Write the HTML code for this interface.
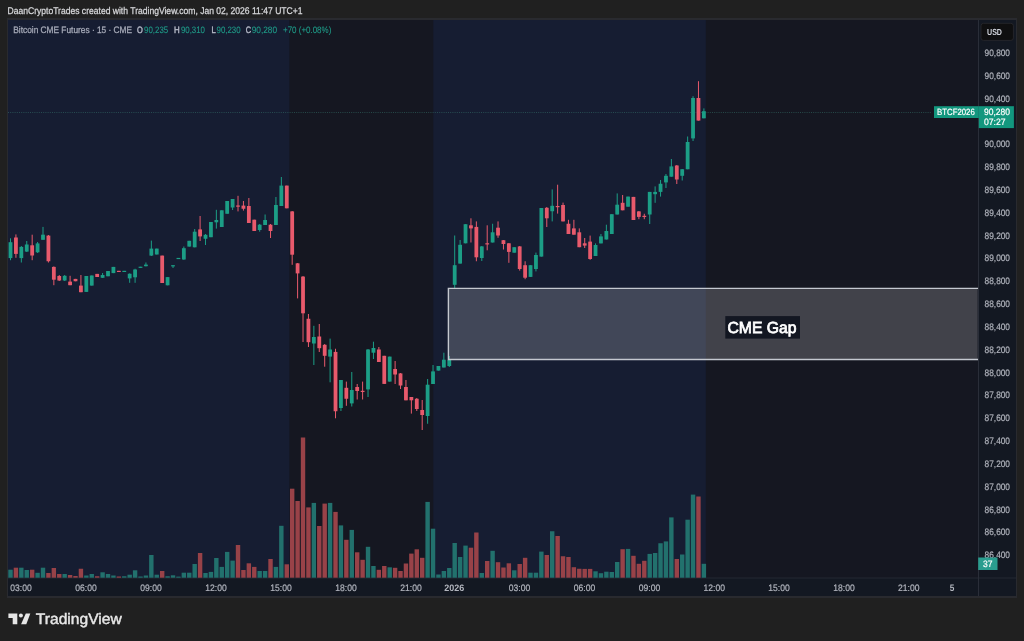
<!DOCTYPE html>
<html><head><meta charset="utf-8">
<style>
html,body{margin:0;padding:0;}
body{width:1024px;height:641px;overflow:hidden;background:#202020;position:relative;font-family:"Liberation Sans",sans-serif;}
svg{position:absolute;left:0;top:0;font-family:"Liberation Sans",sans-serif;}
text{text-rendering:geometricPrecision;}
svg{will-change:transform;}
</style></head><body>
<svg width="1024" height="641" viewBox="0 0 1024 641">
<rect x="7" y="18" width="1010" height="580" fill="#292a2f"/>
<rect x="8" y="20" width="1008" height="576" fill="#151721"/>
<rect x="8" y="20" width="281.3" height="558" fill="#161d32"/>
<rect x="433.3" y="20" width="272.5" height="558" fill="#161d32"/>
<rect x="8" y="578" width="970" height="18" fill="#131822"/>
<rect x="978" y="20" width="38" height="576" fill="#131822"/>
<rect x="8" y="577.6" width="1008" height="0.8" fill="#2a2e39"/>
<rect x="978" y="20" width="1" height="576" fill="#2a2e39"/>
<text x="7.5" y="13.9" textLength="295" lengthAdjust="spacingAndGlyphs" text-anchor="start" style="font-size:9.7px;font-weight:normal;fill:#d8d9dc;stroke:#d8d9dc;stroke-width:0.25">DaanCryptoTrades created with TradingView.com, Jan 02, 2026 11:47 UTC+1</text>
<text x="13.3" y="33" textLength="118.8" lengthAdjust="spacingAndGlyphs" text-anchor="start" style="font-size:9.4px;font-weight:normal;fill:#a4a8b6;stroke:#a4a8b6;stroke-width:0.3">Bitcoin CME Futures · 15 · CME</text>
<text x="137.1" y="33" textLength="5.8" lengthAdjust="spacingAndGlyphs" text-anchor="start" style="font-size:9.3px;font-weight:normal;fill:#b4b8c6;stroke:#b4b8c6;stroke-width:0.45">O</text>
<text x="144.1" y="33" textLength="24.1" lengthAdjust="spacingAndGlyphs" text-anchor="start" style="font-size:9.3px;font-weight:normal;fill:#1f9a87;stroke:#1f9a87;stroke-width:0.1">90,235</text>
<text x="174" y="33" textLength="5.7" lengthAdjust="spacingAndGlyphs" text-anchor="start" style="font-size:9.3px;font-weight:normal;fill:#b4b8c6;stroke:#b4b8c6;stroke-width:0.45">H</text>
<text x="180.9" y="33" textLength="24.1" lengthAdjust="spacingAndGlyphs" text-anchor="start" style="font-size:9.3px;font-weight:normal;fill:#1f9a87;stroke:#1f9a87;stroke-width:0.1">90,310</text>
<text x="211.4" y="33" textLength="4.2" lengthAdjust="spacingAndGlyphs" text-anchor="start" style="font-size:9.3px;font-weight:normal;fill:#b4b8c6;stroke:#b4b8c6;stroke-width:0.45">L</text>
<text x="216.5" y="33" textLength="24.1" lengthAdjust="spacingAndGlyphs" text-anchor="start" style="font-size:9.3px;font-weight:normal;fill:#1f9a87;stroke:#1f9a87;stroke-width:0.1">90,230</text>
<text x="245.7" y="33" textLength="5.3" lengthAdjust="spacingAndGlyphs" text-anchor="start" style="font-size:9.3px;font-weight:normal;fill:#b4b8c6;stroke:#b4b8c6;stroke-width:0.45">C</text>
<text x="251.7" y="33" textLength="25.4" lengthAdjust="spacingAndGlyphs" text-anchor="start" style="font-size:9.3px;font-weight:normal;fill:#1f9a87;stroke:#1f9a87;stroke-width:0.1">90,280</text>
<text x="283" y="33" textLength="48.3" lengthAdjust="spacingAndGlyphs" text-anchor="start" style="font-size:9.3px;font-weight:normal;fill:#1f9a87;stroke:#1f9a87;stroke-width:0.1">+70 (+0.08%)</text>
<line x1="8" y1="112.5" x2="931" y2="112.5" stroke="#3c8478" stroke-width="1" stroke-dasharray="1 1.2" opacity="0.45"/>
<rect x="8.3" y="569.7" width="4.4" height="8" fill="#22716d"/>
<rect x="13.72" y="567.7" width="4.4" height="10" fill="#984248"/>
<rect x="19.13" y="567.7" width="4.4" height="10" fill="#22716d"/>
<rect x="24.55" y="570" width="4.4" height="7.7" fill="#22716d"/>
<rect x="29.97" y="569.7" width="4.4" height="8" fill="#984248"/>
<rect x="35.38" y="572.8" width="4.4" height="4.9" fill="#22716d"/>
<rect x="40.8" y="567.7" width="4.4" height="10" fill="#22716d"/>
<rect x="46.22" y="573" width="4.4" height="4.7" fill="#984248"/>
<rect x="51.64" y="568" width="4.4" height="9.7" fill="#984248"/>
<rect x="57.05" y="574" width="4.4" height="3.7" fill="#984248"/>
<rect x="62.47" y="574" width="4.4" height="3.7" fill="#22716d"/>
<rect x="67.89" y="575" width="4.4" height="2.7" fill="#984248"/>
<rect x="73.3" y="576" width="4.4" height="1.7" fill="#984248"/>
<rect x="78.72" y="568.75" width="4.4" height="8.95" fill="#984248"/>
<rect x="84.14" y="575.5" width="4.4" height="2.2" fill="#22716d"/>
<rect x="89.55" y="574" width="4.4" height="3.7" fill="#22716d"/>
<rect x="94.97" y="576.25" width="4.4" height="1.45" fill="#984248"/>
<rect x="100.39" y="572.3" width="4.4" height="5.4" fill="#22716d"/>
<rect x="105.81" y="574" width="4.4" height="3.7" fill="#22716d"/>
<rect x="111.22" y="575.5" width="4.4" height="2.2" fill="#22716d"/>
<rect x="116.64" y="576.5" width="4.4" height="1.2" fill="#984248"/>
<rect x="122.06" y="576.25" width="4.4" height="1.45" fill="#22716d"/>
<rect x="127.47" y="574.7" width="4.4" height="3" fill="#22716d"/>
<rect x="132.89" y="570.3" width="4.4" height="7.4" fill="#22716d"/>
<rect x="138.31" y="576.5" width="4.4" height="1.2" fill="#22716d"/>
<rect x="143.72" y="575.5" width="4.4" height="2.2" fill="#22716d"/>
<rect x="149.14" y="555" width="4.4" height="22.7" fill="#22716d"/>
<rect x="154.56" y="574.7" width="4.4" height="3" fill="#22716d"/>
<rect x="159.98" y="571" width="4.4" height="6.7" fill="#984248"/>
<rect x="165.39" y="576.25" width="4.4" height="1.45" fill="#22716d"/>
<rect x="170.81" y="575.3" width="4.4" height="2.4" fill="#22716d"/>
<rect x="176.23" y="576.6" width="4.4" height="1.1" fill="#22716d"/>
<rect x="181.64" y="572.7" width="4.4" height="5" fill="#22716d"/>
<rect x="187.06" y="572.7" width="4.4" height="5" fill="#22716d"/>
<rect x="192.48" y="564" width="4.4" height="13.7" fill="#22716d"/>
<rect x="197.9" y="553" width="4.4" height="24.7" fill="#984248"/>
<rect x="203.31" y="573" width="4.4" height="4.7" fill="#22716d"/>
<rect x="208.73" y="571.9" width="4.4" height="5.8" fill="#22716d"/>
<rect x="214.15" y="558" width="4.4" height="19.7" fill="#22716d"/>
<rect x="219.56" y="566.9" width="4.4" height="10.8" fill="#22716d"/>
<rect x="224.98" y="551.9" width="4.4" height="25.8" fill="#22716d"/>
<rect x="230.4" y="560.6" width="4.4" height="17.1" fill="#22716d"/>
<rect x="235.81" y="545" width="4.4" height="32.7" fill="#984248"/>
<rect x="241.23" y="570" width="4.4" height="7.7" fill="#984248"/>
<rect x="246.65" y="563.3" width="4.4" height="14.4" fill="#984248"/>
<rect x="252.06" y="566.9" width="4.4" height="10.8" fill="#984248"/>
<rect x="257.48" y="571" width="4.4" height="6.7" fill="#22716d"/>
<rect x="262.9" y="571" width="4.4" height="6.7" fill="#22716d"/>
<rect x="268.32" y="559" width="4.4" height="18.7" fill="#984248"/>
<rect x="273.73" y="566.9" width="4.4" height="10.8" fill="#22716d"/>
<rect x="279.15" y="525.8" width="4.4" height="51.9" fill="#22716d"/>
<rect x="284.57" y="564.3" width="4.4" height="13.4" fill="#984248"/>
<rect x="289.98" y="488.7" width="4.4" height="89" fill="#984248"/>
<rect x="295.4" y="501" width="4.4" height="76.7" fill="#984248"/>
<rect x="300.82" y="437.5" width="4.4" height="140.2" fill="#984248"/>
<rect x="306.24" y="507.4" width="4.4" height="70.3" fill="#984248"/>
<rect x="311.65" y="502.9" width="4.4" height="74.8" fill="#22716d"/>
<rect x="317.07" y="526" width="4.4" height="51.7" fill="#984248"/>
<rect x="322.49" y="503.6" width="4.4" height="74.1" fill="#984248"/>
<rect x="327.9" y="502.9" width="4.4" height="74.8" fill="#22716d"/>
<rect x="333.32" y="511.9" width="4.4" height="65.8" fill="#984248"/>
<rect x="338.74" y="525.4" width="4.4" height="52.3" fill="#22716d"/>
<rect x="344.15" y="539.8" width="4.4" height="37.9" fill="#984248"/>
<rect x="349.57" y="529.9" width="4.4" height="47.8" fill="#22716d"/>
<rect x="354.99" y="552.3" width="4.4" height="25.4" fill="#984248"/>
<rect x="360.4" y="559.8" width="4.4" height="17.9" fill="#984248"/>
<rect x="365.82" y="546.8" width="4.4" height="30.9" fill="#22716d"/>
<rect x="371.24" y="566" width="4.4" height="11.7" fill="#22716d"/>
<rect x="376.66" y="569.8" width="4.4" height="7.9" fill="#984248"/>
<rect x="382.07" y="566" width="4.4" height="11.7" fill="#984248"/>
<rect x="387.49" y="567.3" width="4.4" height="10.4" fill="#22716d"/>
<rect x="392.91" y="567.8" width="4.4" height="9.9" fill="#984248"/>
<rect x="398.32" y="571" width="4.4" height="6.7" fill="#984248"/>
<rect x="403.74" y="563.5" width="4.4" height="14.2" fill="#984248"/>
<rect x="409.16" y="553.6" width="4.4" height="24.1" fill="#984248"/>
<rect x="414.57" y="549.3" width="4.4" height="28.4" fill="#984248"/>
<rect x="419.99" y="557.8" width="4.4" height="19.9" fill="#984248"/>
<rect x="425.41" y="501.9" width="4.4" height="75.8" fill="#22716d"/>
<rect x="430.83" y="528.7" width="4.4" height="49" fill="#22716d"/>
<rect x="436.24" y="574.5" width="4.4" height="3.2" fill="#22716d"/>
<rect x="441.66" y="571" width="4.4" height="6.7" fill="#22716d"/>
<rect x="447.08" y="568" width="4.4" height="9.7" fill="#22716d"/>
<rect x="452.49" y="543" width="4.4" height="34.7" fill="#22716d"/>
<rect x="457.91" y="557" width="4.4" height="20.7" fill="#22716d"/>
<rect x="463.33" y="545.6" width="4.4" height="32.1" fill="#22716d"/>
<rect x="468.75" y="547.7" width="4.4" height="30" fill="#984248"/>
<rect x="474.16" y="532.5" width="4.4" height="45.2" fill="#984248"/>
<rect x="479.58" y="573" width="4.4" height="4.7" fill="#22716d"/>
<rect x="485" y="561" width="4.4" height="16.7" fill="#984248"/>
<rect x="490.41" y="550.8" width="4.4" height="26.9" fill="#22716d"/>
<rect x="495.83" y="562.2" width="4.4" height="15.5" fill="#984248"/>
<rect x="501.25" y="567.5" width="4.4" height="10.2" fill="#984248"/>
<rect x="506.66" y="563.3" width="4.4" height="14.4" fill="#984248"/>
<rect x="512.08" y="570.3" width="4.4" height="7.4" fill="#22716d"/>
<rect x="517.5" y="564" width="4.4" height="13.7" fill="#984248"/>
<rect x="522.91" y="557.8" width="4.4" height="19.9" fill="#984248"/>
<rect x="528.33" y="572.7" width="4.4" height="5" fill="#22716d"/>
<rect x="533.75" y="572.7" width="4.4" height="5" fill="#22716d"/>
<rect x="539.17" y="551.6" width="4.4" height="26.1" fill="#22716d"/>
<rect x="544.58" y="555" width="4.4" height="22.7" fill="#984248"/>
<rect x="550" y="531.25" width="4.4" height="46.45" fill="#22716d"/>
<rect x="555.42" y="536" width="4.4" height="41.7" fill="#984248"/>
<rect x="560.83" y="556.25" width="4.4" height="21.45" fill="#984248"/>
<rect x="566.25" y="557" width="4.4" height="20.7" fill="#984248"/>
<rect x="571.67" y="567.2" width="4.4" height="10.5" fill="#984248"/>
<rect x="577.08" y="568.75" width="4.4" height="8.95" fill="#984248"/>
<rect x="582.5" y="568.9" width="4.4" height="8.8" fill="#984248"/>
<rect x="587.92" y="568.9" width="4.4" height="8.8" fill="#984248"/>
<rect x="593.34" y="571.3" width="4.4" height="6.4" fill="#22716d"/>
<rect x="598.75" y="573.2" width="4.4" height="4.5" fill="#22716d"/>
<rect x="604.17" y="571.7" width="4.4" height="6" fill="#22716d"/>
<rect x="609.59" y="572" width="4.4" height="5.7" fill="#22716d"/>
<rect x="615" y="562" width="4.4" height="15.7" fill="#22716d"/>
<rect x="620.42" y="549.2" width="4.4" height="28.5" fill="#984248"/>
<rect x="625.84" y="548.9" width="4.4" height="28.8" fill="#22716d"/>
<rect x="631.25" y="555.8" width="4.4" height="21.9" fill="#984248"/>
<rect x="636.67" y="563.8" width="4.4" height="13.9" fill="#984248"/>
<rect x="642.09" y="560.8" width="4.4" height="16.9" fill="#984248"/>
<rect x="647.51" y="553.9" width="4.4" height="23.8" fill="#22716d"/>
<rect x="652.92" y="553" width="4.4" height="24.7" fill="#22716d"/>
<rect x="658.34" y="543.25" width="4.4" height="34.45" fill="#22716d"/>
<rect x="663.76" y="541.4" width="4.4" height="36.3" fill="#22716d"/>
<rect x="669.17" y="517.4" width="4.4" height="60.3" fill="#22716d"/>
<rect x="674.59" y="559" width="4.4" height="18.7" fill="#984248"/>
<rect x="680.01" y="554.5" width="4.4" height="23.2" fill="#22716d"/>
<rect x="685.42" y="519.7" width="4.4" height="58" fill="#22716d"/>
<rect x="690.84" y="494.6" width="4.4" height="83.1" fill="#22716d"/>
<rect x="696.26" y="496.5" width="4.4" height="81.2" fill="#984248"/>
<rect x="701.68" y="563.8" width="4.4" height="13.9" fill="#22716d"/>
<rect x="10" y="238.3" width="1" height="21.9" fill="#1c9e86"/>
<rect x="8.6" y="242.2" width="3.8" height="15.9" fill="#1c9e86"/>
<rect x="15.42" y="234.4" width="1" height="23.4" fill="#e85a6c"/>
<rect x="14.02" y="237.5" width="3.8" height="16.4" fill="#e85a6c"/>
<rect x="20.83" y="246" width="1" height="16.5" fill="#1c9e86"/>
<rect x="19.43" y="246.9" width="3.8" height="11.2" fill="#1c9e86"/>
<rect x="26.25" y="241" width="1" height="11" fill="#1c9e86"/>
<rect x="24.85" y="244.5" width="3.8" height="7.1" fill="#1c9e86"/>
<rect x="31.67" y="234.7" width="1" height="25.5" fill="#e85a6c"/>
<rect x="30.27" y="245.3" width="3.8" height="10.2" fill="#e85a6c"/>
<rect x="37.09" y="242" width="1" height="11" fill="#1c9e86"/>
<rect x="35.69" y="243.4" width="3.8" height="8.9" fill="#1c9e86"/>
<rect x="42.5" y="226.9" width="1" height="12.9" fill="#1c9e86"/>
<rect x="41.1" y="234.7" width="3.8" height="5.1" fill="#1c9e86"/>
<rect x="47.92" y="235" width="1" height="27.5" fill="#e85a6c"/>
<rect x="46.52" y="235.6" width="3.8" height="25.65" fill="#e85a6c"/>
<rect x="53.34" y="266.4" width="1" height="18.8" fill="#e85a6c"/>
<rect x="51.94" y="266.9" width="3.8" height="12.8" fill="#e85a6c"/>
<rect x="58.75" y="275" width="1" height="6" fill="#e85a6c"/>
<rect x="57.35" y="276" width="3.8" height="4.5" fill="#e85a6c"/>
<rect x="64.17" y="275" width="1" height="6" fill="#1c9e86"/>
<rect x="62.77" y="275.8" width="3.8" height="4.7" fill="#1c9e86"/>
<rect x="69.59" y="275.8" width="1" height="9.4" fill="#e85a6c"/>
<rect x="68.19" y="281.6" width="3.8" height="3.6" fill="#e85a6c"/>
<rect x="75" y="278.9" width="1" height="2.35" fill="#e85a6c"/>
<rect x="73.6" y="278.9" width="3.8" height="2.35" fill="#e85a6c"/>
<rect x="80.42" y="275" width="1" height="17.2" fill="#e85a6c"/>
<rect x="79.02" y="285.6" width="3.8" height="6.6" fill="#e85a6c"/>
<rect x="85.84" y="276" width="1" height="15.9" fill="#1c9e86"/>
<rect x="84.44" y="276" width="3.8" height="15.9" fill="#1c9e86"/>
<rect x="91.25" y="275.5" width="1" height="10.1" fill="#1c9e86"/>
<rect x="89.85" y="275.5" width="3.8" height="10.1" fill="#1c9e86"/>
<rect x="96.67" y="273.9" width="1" height="3.1" fill="#e85a6c"/>
<rect x="95.27" y="273.9" width="3.8" height="3.1" fill="#e85a6c"/>
<rect x="102.09" y="273" width="1" height="5" fill="#1c9e86"/>
<rect x="100.69" y="275" width="3.8" height="2.8" fill="#1c9e86"/>
<rect x="107.51" y="271" width="1" height="5.25" fill="#1c9e86"/>
<rect x="106.11" y="271" width="3.8" height="5.25" fill="#1c9e86"/>
<rect x="112.92" y="266.9" width="1" height="6.2" fill="#1c9e86"/>
<rect x="111.52" y="266.9" width="3.8" height="6.2" fill="#1c9e86"/>
<rect x="118.34" y="270.9" width="1" height="1" fill="#e85a6c"/>
<rect x="116.94" y="270.8" width="3.8" height="1.2" fill="#e85a6c"/>
<rect x="123.76" y="270.9" width="1" height="1" fill="#1c9e86"/>
<rect x="122.36" y="270.8" width="3.8" height="1.2" fill="#1c9e86"/>
<rect x="129.17" y="273.4" width="1" height="9.4" fill="#1c9e86"/>
<rect x="127.77" y="273.75" width="3.8" height="4.65" fill="#1c9e86"/>
<rect x="134.59" y="268.75" width="1" height="14.05" fill="#1c9e86"/>
<rect x="133.19" y="269.5" width="3.8" height="7.8" fill="#1c9e86"/>
<rect x="140.01" y="266.8" width="1" height="1" fill="#1c9e86"/>
<rect x="138.61" y="266.7" width="3.8" height="1.2" fill="#1c9e86"/>
<rect x="145.42" y="262.5" width="1" height="3.9" fill="#1c9e86"/>
<rect x="144.02" y="264.6" width="3.8" height="1.6" fill="#1c9e86"/>
<rect x="150.84" y="240.6" width="1" height="15.4" fill="#1c9e86"/>
<rect x="149.44" y="248.6" width="3.8" height="7" fill="#1c9e86"/>
<rect x="156.26" y="248.6" width="1" height="5.9" fill="#1c9e86"/>
<rect x="154.86" y="248.6" width="3.8" height="5.9" fill="#1c9e86"/>
<rect x="161.68" y="255.6" width="1" height="27.4" fill="#e85a6c"/>
<rect x="160.28" y="255.6" width="3.8" height="27.4" fill="#e85a6c"/>
<rect x="167.09" y="277.1" width="1" height="8.2" fill="#1c9e86"/>
<rect x="165.69" y="277.1" width="3.8" height="8.2" fill="#1c9e86"/>
<rect x="172.51" y="265.3" width="1" height="2.7" fill="#1c9e86"/>
<rect x="171.11" y="265.2" width="3.8" height="1.2" fill="#1c9e86"/>
<rect x="177.93" y="258" width="1" height="1" fill="#1c9e86"/>
<rect x="176.53" y="257.9" width="3.8" height="1.2" fill="#1c9e86"/>
<rect x="183.34" y="246.5" width="1" height="13.3" fill="#1c9e86"/>
<rect x="181.94" y="248.2" width="3.8" height="11.3" fill="#1c9e86"/>
<rect x="188.76" y="240.8" width="1" height="5.8" fill="#1c9e86"/>
<rect x="187.36" y="240.8" width="3.8" height="5.8" fill="#1c9e86"/>
<rect x="194.18" y="229" width="1" height="18.3" fill="#1c9e86"/>
<rect x="192.78" y="231.7" width="3.8" height="15.6" fill="#1c9e86"/>
<rect x="199.59" y="216" width="1" height="25" fill="#e85a6c"/>
<rect x="198.19" y="229.4" width="3.8" height="7" fill="#e85a6c"/>
<rect x="205.01" y="234" width="1" height="11" fill="#1c9e86"/>
<rect x="203.61" y="234.8" width="3.8" height="3.95" fill="#1c9e86"/>
<rect x="210.43" y="222" width="1" height="15.2" fill="#1c9e86"/>
<rect x="209.03" y="222" width="3.8" height="15.2" fill="#1c9e86"/>
<rect x="215.85" y="209.8" width="1" height="18.8" fill="#1c9e86"/>
<rect x="214.45" y="220" width="3.8" height="2.3" fill="#1c9e86"/>
<rect x="221.26" y="210.3" width="1" height="16.7" fill="#1c9e86"/>
<rect x="219.86" y="210.3" width="3.8" height="16.7" fill="#1c9e86"/>
<rect x="226.68" y="201" width="1" height="12.75" fill="#1c9e86"/>
<rect x="225.28" y="201" width="3.8" height="12.75" fill="#1c9e86"/>
<rect x="232.1" y="199" width="1" height="11" fill="#1c9e86"/>
<rect x="230.7" y="199" width="3.8" height="8.5" fill="#1c9e86"/>
<rect x="237.51" y="195.8" width="1" height="15.6" fill="#e85a6c"/>
<rect x="236.11" y="205.5" width="3.8" height="1.2" fill="#e85a6c"/>
<rect x="242.93" y="201" width="1" height="9.6" fill="#e85a6c"/>
<rect x="241.53" y="205.6" width="3.8" height="3.15" fill="#e85a6c"/>
<rect x="248.35" y="198" width="1" height="25" fill="#e85a6c"/>
<rect x="246.95" y="206" width="3.8" height="17" fill="#e85a6c"/>
<rect x="253.76" y="219.7" width="1" height="11.3" fill="#e85a6c"/>
<rect x="252.36" y="219.7" width="3.8" height="11.3" fill="#e85a6c"/>
<rect x="259.18" y="224" width="1" height="7.7" fill="#1c9e86"/>
<rect x="257.78" y="224.7" width="3.8" height="5.3" fill="#1c9e86"/>
<rect x="264.6" y="214.5" width="1" height="10.5" fill="#1c9e86"/>
<rect x="263.2" y="220" width="3.8" height="5" fill="#1c9e86"/>
<rect x="270.02" y="224" width="1" height="14" fill="#e85a6c"/>
<rect x="268.62" y="224.7" width="3.8" height="6.3" fill="#e85a6c"/>
<rect x="275.43" y="197" width="1" height="28" fill="#1c9e86"/>
<rect x="274.03" y="205" width="3.8" height="20" fill="#1c9e86"/>
<rect x="280.85" y="177" width="1" height="29" fill="#1c9e86"/>
<rect x="279.45" y="185.6" width="3.8" height="20.4" fill="#1c9e86"/>
<rect x="286.27" y="185.6" width="1" height="22.7" fill="#e85a6c"/>
<rect x="284.87" y="185.6" width="3.8" height="22.7" fill="#e85a6c"/>
<rect x="291.68" y="211" width="1" height="53.8" fill="#e85a6c"/>
<rect x="290.28" y="211.4" width="3.8" height="43.3" fill="#e85a6c"/>
<rect x="297.1" y="263" width="1" height="35.4" fill="#e85a6c"/>
<rect x="295.7" y="263.3" width="3.8" height="10.1" fill="#e85a6c"/>
<rect x="302.52" y="276" width="1" height="66" fill="#e85a6c"/>
<rect x="301.12" y="276.6" width="3.8" height="36.7" fill="#e85a6c"/>
<rect x="307.94" y="314" width="1" height="33" fill="#e85a6c"/>
<rect x="306.54" y="318.75" width="3.8" height="23.45" fill="#e85a6c"/>
<rect x="313.35" y="325.8" width="1" height="39.2" fill="#1c9e86"/>
<rect x="311.95" y="337" width="3.8" height="6.5" fill="#1c9e86"/>
<rect x="318.77" y="324" width="1" height="28" fill="#e85a6c"/>
<rect x="317.37" y="336.5" width="3.8" height="11.7" fill="#e85a6c"/>
<rect x="324.19" y="344" width="1" height="22.7" fill="#e85a6c"/>
<rect x="322.79" y="344.8" width="3.8" height="11" fill="#e85a6c"/>
<rect x="329.6" y="338.6" width="1" height="43.7" fill="#1c9e86"/>
<rect x="328.2" y="349.5" width="3.8" height="7.1" fill="#1c9e86"/>
<rect x="335.02" y="348.75" width="1" height="69.55" fill="#e85a6c"/>
<rect x="333.62" y="351.9" width="3.8" height="59.35" fill="#e85a6c"/>
<rect x="340.44" y="380" width="1" height="31" fill="#1c9e86"/>
<rect x="339.04" y="380" width="3.8" height="28" fill="#1c9e86"/>
<rect x="345.85" y="381.6" width="1" height="24.2" fill="#e85a6c"/>
<rect x="344.45" y="387.8" width="3.8" height="10.95" fill="#e85a6c"/>
<rect x="351.27" y="372" width="1" height="34.5" fill="#1c9e86"/>
<rect x="349.87" y="390" width="3.8" height="13.4" fill="#1c9e86"/>
<rect x="356.69" y="384" width="1" height="15.5" fill="#e85a6c"/>
<rect x="355.29" y="387" width="3.8" height="4" fill="#e85a6c"/>
<rect x="362.1" y="381.6" width="1" height="17.9" fill="#e85a6c"/>
<rect x="360.7" y="390.8" width="3.8" height="1.2" fill="#e85a6c"/>
<rect x="367.52" y="349" width="1" height="48" fill="#1c9e86"/>
<rect x="366.12" y="349.5" width="3.8" height="39.9" fill="#1c9e86"/>
<rect x="372.94" y="341.7" width="1" height="17.3" fill="#1c9e86"/>
<rect x="371.54" y="348" width="3.8" height="4.7" fill="#1c9e86"/>
<rect x="378.36" y="347" width="1" height="15" fill="#e85a6c"/>
<rect x="376.96" y="349.5" width="3.8" height="12.5" fill="#e85a6c"/>
<rect x="383.77" y="355.8" width="1" height="28.1" fill="#e85a6c"/>
<rect x="382.37" y="355.8" width="3.8" height="28.1" fill="#e85a6c"/>
<rect x="389.19" y="356.6" width="1" height="25" fill="#1c9e86"/>
<rect x="387.79" y="356.6" width="3.8" height="25" fill="#1c9e86"/>
<rect x="394.61" y="361" width="1" height="23" fill="#e85a6c"/>
<rect x="393.21" y="369" width="3.8" height="5.5" fill="#e85a6c"/>
<rect x="400.02" y="373" width="1" height="16" fill="#e85a6c"/>
<rect x="398.62" y="373.4" width="3.8" height="12.1" fill="#e85a6c"/>
<rect x="405.44" y="380" width="1" height="20.3" fill="#e85a6c"/>
<rect x="404.04" y="387" width="3.8" height="13.3" fill="#e85a6c"/>
<rect x="410.86" y="397" width="1" height="16.6" fill="#e85a6c"/>
<rect x="409.46" y="397" width="3.8" height="3.3" fill="#e85a6c"/>
<rect x="416.27" y="398" width="1" height="13" fill="#e85a6c"/>
<rect x="414.88" y="398.75" width="3.8" height="10.25" fill="#e85a6c"/>
<rect x="421.69" y="400" width="1" height="30" fill="#e85a6c"/>
<rect x="420.29" y="410" width="3.8" height="5" fill="#e85a6c"/>
<rect x="427.11" y="379" width="1" height="44.75" fill="#1c9e86"/>
<rect x="425.71" y="384.7" width="3.8" height="31.3" fill="#1c9e86"/>
<rect x="432.53" y="365" width="1" height="19" fill="#1c9e86"/>
<rect x="431.13" y="371.4" width="3.8" height="12.6" fill="#1c9e86"/>
<rect x="437.94" y="366" width="1" height="4.6" fill="#1c9e86"/>
<rect x="436.54" y="366" width="3.8" height="4.6" fill="#1c9e86"/>
<rect x="443.36" y="352.7" width="1" height="14.8" fill="#1c9e86"/>
<rect x="441.96" y="359.7" width="3.8" height="7.8" fill="#1c9e86"/>
<rect x="448.78" y="356" width="1" height="11" fill="#1c9e86"/>
<rect x="447.38" y="360" width="3.8" height="6" fill="#1c9e86"/>
<rect x="454.19" y="235.5" width="1" height="52.5" fill="#1c9e86"/>
<rect x="452.79" y="265.2" width="3.8" height="19.6" fill="#1c9e86"/>
<rect x="459.61" y="240" width="1" height="23.6" fill="#1c9e86"/>
<rect x="458.21" y="244.8" width="3.8" height="18.8" fill="#1c9e86"/>
<rect x="465.03" y="224.2" width="1" height="19.1" fill="#1c9e86"/>
<rect x="463.63" y="224.2" width="3.8" height="19.1" fill="#1c9e86"/>
<rect x="470.44" y="218.3" width="1" height="24.2" fill="#e85a6c"/>
<rect x="469.05" y="225.3" width="3.8" height="3.1" fill="#e85a6c"/>
<rect x="475.86" y="221.4" width="1" height="39.85" fill="#e85a6c"/>
<rect x="474.46" y="226.9" width="3.8" height="30.4" fill="#e85a6c"/>
<rect x="481.28" y="246" width="1" height="15" fill="#1c9e86"/>
<rect x="479.88" y="246.4" width="3.8" height="11.6" fill="#1c9e86"/>
<rect x="486.7" y="225.3" width="1" height="25" fill="#e85a6c"/>
<rect x="485.3" y="243.25" width="3.8" height="1.2" fill="#e85a6c"/>
<rect x="492.11" y="223.75" width="1" height="18.75" fill="#1c9e86"/>
<rect x="490.71" y="232.3" width="3.8" height="10.2" fill="#1c9e86"/>
<rect x="497.53" y="221.4" width="1" height="16.4" fill="#e85a6c"/>
<rect x="496.13" y="227.7" width="3.8" height="7.8" fill="#e85a6c"/>
<rect x="502.95" y="240" width="1" height="9.5" fill="#e85a6c"/>
<rect x="501.55" y="240.2" width="3.8" height="3.8" fill="#e85a6c"/>
<rect x="508.36" y="243" width="1" height="19.8" fill="#e85a6c"/>
<rect x="506.96" y="243.3" width="3.8" height="8.6" fill="#e85a6c"/>
<rect x="513.78" y="247.2" width="1" height="5.5" fill="#1c9e86"/>
<rect x="512.38" y="247.2" width="3.8" height="5.5" fill="#1c9e86"/>
<rect x="519.2" y="246" width="1" height="24.6" fill="#e85a6c"/>
<rect x="517.8" y="246.4" width="3.8" height="22.6" fill="#e85a6c"/>
<rect x="524.62" y="261.25" width="1" height="17.95" fill="#e85a6c"/>
<rect x="523.22" y="265.2" width="3.8" height="12.5" fill="#e85a6c"/>
<rect x="530.03" y="265.2" width="1" height="11.7" fill="#1c9e86"/>
<rect x="528.63" y="265.2" width="3.8" height="11.7" fill="#1c9e86"/>
<rect x="535.45" y="252.6" width="1" height="18.8" fill="#1c9e86"/>
<rect x="534.05" y="255" width="3.8" height="14" fill="#1c9e86"/>
<rect x="540.87" y="208" width="1" height="48.6" fill="#1c9e86"/>
<rect x="539.47" y="208" width="3.8" height="48.6" fill="#1c9e86"/>
<rect x="546.28" y="207" width="1" height="20" fill="#e85a6c"/>
<rect x="544.88" y="207.8" width="3.8" height="10.5" fill="#e85a6c"/>
<rect x="551.7" y="189.4" width="1" height="32" fill="#1c9e86"/>
<rect x="550.3" y="205.8" width="3.8" height="5.45" fill="#1c9e86"/>
<rect x="557.12" y="184.7" width="1" height="28.9" fill="#e85a6c"/>
<rect x="555.72" y="206" width="3.8" height="1.2" fill="#e85a6c"/>
<rect x="562.53" y="202.6" width="1" height="18.8" fill="#e85a6c"/>
<rect x="561.13" y="205" width="3.8" height="16.4" fill="#e85a6c"/>
<rect x="567.95" y="219.8" width="1" height="14.2" fill="#e85a6c"/>
<rect x="566.55" y="223.75" width="3.8" height="10.25" fill="#e85a6c"/>
<rect x="573.37" y="219.8" width="1" height="14.9" fill="#e85a6c"/>
<rect x="571.97" y="228.4" width="3.8" height="6.3" fill="#e85a6c"/>
<rect x="578.78" y="228.4" width="1" height="18.8" fill="#e85a6c"/>
<rect x="577.38" y="232.3" width="3.8" height="14.9" fill="#e85a6c"/>
<rect x="584.2" y="238" width="1" height="10" fill="#e85a6c"/>
<rect x="582.8" y="243.3" width="3.8" height="2.3" fill="#e85a6c"/>
<rect x="589.62" y="235.6" width="1" height="24.2" fill="#e85a6c"/>
<rect x="588.22" y="241.6" width="3.8" height="17.4" fill="#e85a6c"/>
<rect x="595.04" y="243.4" width="1" height="12.6" fill="#1c9e86"/>
<rect x="593.64" y="245" width="3.8" height="11" fill="#1c9e86"/>
<rect x="600.45" y="234" width="1" height="9.4" fill="#1c9e86"/>
<rect x="599.05" y="236.4" width="3.8" height="7" fill="#1c9e86"/>
<rect x="605.87" y="224.7" width="1" height="14.8" fill="#1c9e86"/>
<rect x="604.47" y="231" width="3.8" height="8.5" fill="#1c9e86"/>
<rect x="611.29" y="214.2" width="1" height="19.8" fill="#1c9e86"/>
<rect x="609.89" y="214.2" width="3.8" height="19.8" fill="#1c9e86"/>
<rect x="616.7" y="193.4" width="1" height="21.1" fill="#1c9e86"/>
<rect x="615.3" y="204.7" width="3.8" height="9.8" fill="#1c9e86"/>
<rect x="622.12" y="195" width="1" height="15.3" fill="#e85a6c"/>
<rect x="620.72" y="202.8" width="3.8" height="7.5" fill="#e85a6c"/>
<rect x="627.54" y="196.6" width="1" height="10.1" fill="#1c9e86"/>
<rect x="626.14" y="196.6" width="3.8" height="10.1" fill="#1c9e86"/>
<rect x="632.95" y="196.9" width="1" height="23.1" fill="#e85a6c"/>
<rect x="631.55" y="196.9" width="3.8" height="23.1" fill="#e85a6c"/>
<rect x="638.37" y="211" width="1" height="8.2" fill="#e85a6c"/>
<rect x="636.97" y="211.4" width="3.8" height="5.5" fill="#e85a6c"/>
<rect x="643.79" y="213.75" width="1" height="5.45" fill="#e85a6c"/>
<rect x="642.39" y="215.8" width="3.8" height="1.2" fill="#e85a6c"/>
<rect x="649.21" y="191.9" width="1" height="32.1" fill="#1c9e86"/>
<rect x="647.81" y="191.9" width="3.8" height="22.6" fill="#1c9e86"/>
<rect x="654.62" y="186.4" width="1" height="16.4" fill="#1c9e86"/>
<rect x="653.22" y="191.9" width="3.8" height="2.3" fill="#1c9e86"/>
<rect x="660.04" y="180" width="1" height="16.6" fill="#1c9e86"/>
<rect x="658.64" y="183.75" width="3.8" height="8.15" fill="#1c9e86"/>
<rect x="665.46" y="174" width="1" height="14" fill="#1c9e86"/>
<rect x="664.06" y="175.8" width="3.8" height="6.6" fill="#1c9e86"/>
<rect x="670.87" y="159" width="1" height="17.7" fill="#1c9e86"/>
<rect x="669.47" y="166.4" width="3.8" height="10.3" fill="#1c9e86"/>
<rect x="676.29" y="165" width="1" height="19" fill="#e85a6c"/>
<rect x="674.89" y="165.5" width="3.8" height="14" fill="#e85a6c"/>
<rect x="681.71" y="169" width="1" height="11.5" fill="#1c9e86"/>
<rect x="680.31" y="169.25" width="3.8" height="6.55" fill="#1c9e86"/>
<rect x="687.12" y="136.5" width="1" height="32.75" fill="#1c9e86"/>
<rect x="685.73" y="142" width="3.8" height="27.25" fill="#1c9e86"/>
<rect x="692.54" y="96.2" width="1" height="44.8" fill="#1c9e86"/>
<rect x="691.14" y="98" width="3.8" height="40.4" fill="#1c9e86"/>
<rect x="697.96" y="81.2" width="1" height="39.4" fill="#e85a6c"/>
<rect x="696.56" y="98" width="3.8" height="22.6" fill="#e85a6c"/>
<rect x="703.38" y="108.4" width="1" height="9.9" fill="#1c9e86"/>
<rect x="701.98" y="111.2" width="3.8" height="7.1" fill="#1c9e86"/>
<rect x="448.4" y="288.4" width="529.2" height="71.1" fill="rgba(255,255,255,0.187)"/>
<path d="M978 288.4 H448.4 V359.5 H978" fill="none" stroke="#c4c8d0" stroke-width="1.4"/>
<rect x="725.3" y="316.1" width="74.7" height="22.5" fill="#131722"/>
<text x="727.5" y="333.4" textLength="69" lengthAdjust="spacingAndGlyphs" text-anchor="start" style="font-size:16px;font-weight:normal;fill:#ffffff;stroke:#ffffff;stroke-width:0.75">CME Gap</text>
<text x="984.6" y="56" textLength="25.4" lengthAdjust="spacingAndGlyphs" text-anchor="start" style="font-size:9.4px;font-weight:normal;fill:#b2b5be;stroke:#b2b5be;stroke-width:0.2">90,800</text>
<text x="984.6" y="78.83" textLength="25.4" lengthAdjust="spacingAndGlyphs" text-anchor="start" style="font-size:9.4px;font-weight:normal;fill:#b2b5be;stroke:#b2b5be;stroke-width:0.2">90,600</text>
<text x="984.6" y="101.66" textLength="25.4" lengthAdjust="spacingAndGlyphs" text-anchor="start" style="font-size:9.4px;font-weight:normal;fill:#b2b5be;stroke:#b2b5be;stroke-width:0.2">90,400</text>
<text x="984.6" y="147.32" textLength="25.4" lengthAdjust="spacingAndGlyphs" text-anchor="start" style="font-size:9.4px;font-weight:normal;fill:#b2b5be;stroke:#b2b5be;stroke-width:0.2">90,000</text>
<text x="984.6" y="170.15" textLength="25.4" lengthAdjust="spacingAndGlyphs" text-anchor="start" style="font-size:9.4px;font-weight:normal;fill:#b2b5be;stroke:#b2b5be;stroke-width:0.2">89,800</text>
<text x="984.6" y="192.98" textLength="25.4" lengthAdjust="spacingAndGlyphs" text-anchor="start" style="font-size:9.4px;font-weight:normal;fill:#b2b5be;stroke:#b2b5be;stroke-width:0.2">89,600</text>
<text x="984.6" y="215.81" textLength="25.4" lengthAdjust="spacingAndGlyphs" text-anchor="start" style="font-size:9.4px;font-weight:normal;fill:#b2b5be;stroke:#b2b5be;stroke-width:0.2">89,400</text>
<text x="984.6" y="238.64" textLength="25.4" lengthAdjust="spacingAndGlyphs" text-anchor="start" style="font-size:9.4px;font-weight:normal;fill:#b2b5be;stroke:#b2b5be;stroke-width:0.2">89,200</text>
<text x="984.6" y="261.47" textLength="25.4" lengthAdjust="spacingAndGlyphs" text-anchor="start" style="font-size:9.4px;font-weight:normal;fill:#b2b5be;stroke:#b2b5be;stroke-width:0.2">89,000</text>
<text x="984.6" y="284.3" textLength="25.4" lengthAdjust="spacingAndGlyphs" text-anchor="start" style="font-size:9.4px;font-weight:normal;fill:#b2b5be;stroke:#b2b5be;stroke-width:0.2">88,800</text>
<text x="984.6" y="307.13" textLength="25.4" lengthAdjust="spacingAndGlyphs" text-anchor="start" style="font-size:9.4px;font-weight:normal;fill:#b2b5be;stroke:#b2b5be;stroke-width:0.2">88,600</text>
<text x="984.6" y="329.96" textLength="25.4" lengthAdjust="spacingAndGlyphs" text-anchor="start" style="font-size:9.4px;font-weight:normal;fill:#b2b5be;stroke:#b2b5be;stroke-width:0.2">88,400</text>
<text x="984.6" y="352.79" textLength="25.4" lengthAdjust="spacingAndGlyphs" text-anchor="start" style="font-size:9.4px;font-weight:normal;fill:#b2b5be;stroke:#b2b5be;stroke-width:0.2">88,200</text>
<text x="984.6" y="375.62" textLength="25.4" lengthAdjust="spacingAndGlyphs" text-anchor="start" style="font-size:9.4px;font-weight:normal;fill:#b2b5be;stroke:#b2b5be;stroke-width:0.2">88,000</text>
<text x="984.6" y="398.45" textLength="25.4" lengthAdjust="spacingAndGlyphs" text-anchor="start" style="font-size:9.4px;font-weight:normal;fill:#b2b5be;stroke:#b2b5be;stroke-width:0.2">87,800</text>
<text x="984.6" y="421.28" textLength="25.4" lengthAdjust="spacingAndGlyphs" text-anchor="start" style="font-size:9.4px;font-weight:normal;fill:#b2b5be;stroke:#b2b5be;stroke-width:0.2">87,600</text>
<text x="984.6" y="444.11" textLength="25.4" lengthAdjust="spacingAndGlyphs" text-anchor="start" style="font-size:9.4px;font-weight:normal;fill:#b2b5be;stroke:#b2b5be;stroke-width:0.2">87,400</text>
<text x="984.6" y="466.94" textLength="25.4" lengthAdjust="spacingAndGlyphs" text-anchor="start" style="font-size:9.4px;font-weight:normal;fill:#b2b5be;stroke:#b2b5be;stroke-width:0.2">87,200</text>
<text x="984.6" y="489.77" textLength="25.4" lengthAdjust="spacingAndGlyphs" text-anchor="start" style="font-size:9.4px;font-weight:normal;fill:#b2b5be;stroke:#b2b5be;stroke-width:0.2">87,000</text>
<text x="984.6" y="512.6" textLength="25.4" lengthAdjust="spacingAndGlyphs" text-anchor="start" style="font-size:9.4px;font-weight:normal;fill:#b2b5be;stroke:#b2b5be;stroke-width:0.2">86,800</text>
<text x="984.6" y="535.43" textLength="25.4" lengthAdjust="spacingAndGlyphs" text-anchor="start" style="font-size:9.4px;font-weight:normal;fill:#b2b5be;stroke:#b2b5be;stroke-width:0.2">86,600</text>
<text x="984.6" y="558.26" textLength="25.4" lengthAdjust="spacingAndGlyphs" text-anchor="start" style="font-size:9.4px;font-weight:normal;fill:#b2b5be;stroke:#b2b5be;stroke-width:0.2">86,400</text>
<text x="10.3" y="590.9" textLength="21.4" lengthAdjust="spacingAndGlyphs" text-anchor="start" style="font-size:9.4px;font-weight:normal;fill:#b2b5be;stroke:#b2b5be;stroke-width:0.2">03:00</text>
<text x="75.3" y="590.9" textLength="21.4" lengthAdjust="spacingAndGlyphs" text-anchor="start" style="font-size:9.4px;font-weight:normal;fill:#b2b5be;stroke:#b2b5be;stroke-width:0.2">06:00</text>
<text x="140.3" y="590.9" textLength="21.4" lengthAdjust="spacingAndGlyphs" text-anchor="start" style="font-size:9.4px;font-weight:normal;fill:#b2b5be;stroke:#b2b5be;stroke-width:0.2">09:00</text>
<text x="205.3" y="590.9" textLength="21.4" lengthAdjust="spacingAndGlyphs" text-anchor="start" style="font-size:9.4px;font-weight:normal;fill:#b2b5be;stroke:#b2b5be;stroke-width:0.2">12:00</text>
<text x="270.3" y="590.9" textLength="21.4" lengthAdjust="spacingAndGlyphs" text-anchor="start" style="font-size:9.4px;font-weight:normal;fill:#b2b5be;stroke:#b2b5be;stroke-width:0.2">15:00</text>
<text x="335.3" y="590.9" textLength="21.4" lengthAdjust="spacingAndGlyphs" text-anchor="start" style="font-size:9.4px;font-weight:normal;fill:#b2b5be;stroke:#b2b5be;stroke-width:0.2">18:00</text>
<text x="400.3" y="590.9" textLength="21.4" lengthAdjust="spacingAndGlyphs" text-anchor="start" style="font-size:9.4px;font-weight:normal;fill:#b2b5be;stroke:#b2b5be;stroke-width:0.2">21:00</text>
<text x="444.3" y="590.9" textLength="20" lengthAdjust="spacingAndGlyphs" text-anchor="start" style="font-size:9.4px;font-weight:bold;fill:#b2b5be">2026</text>
<text x="508.8" y="590.9" textLength="21.4" lengthAdjust="spacingAndGlyphs" text-anchor="start" style="font-size:9.4px;font-weight:normal;fill:#b2b5be;stroke:#b2b5be;stroke-width:0.2">03:00</text>
<text x="573.8" y="590.9" textLength="21.4" lengthAdjust="spacingAndGlyphs" text-anchor="start" style="font-size:9.4px;font-weight:normal;fill:#b2b5be;stroke:#b2b5be;stroke-width:0.2">06:00</text>
<text x="638.8" y="590.9" textLength="21.4" lengthAdjust="spacingAndGlyphs" text-anchor="start" style="font-size:9.4px;font-weight:normal;fill:#b2b5be;stroke:#b2b5be;stroke-width:0.2">09:00</text>
<text x="703.5" y="590.9" textLength="21.4" lengthAdjust="spacingAndGlyphs" text-anchor="start" style="font-size:9.4px;font-weight:normal;fill:#b2b5be;stroke:#b2b5be;stroke-width:0.2">12:00</text>
<text x="768.3" y="590.9" textLength="21.4" lengthAdjust="spacingAndGlyphs" text-anchor="start" style="font-size:9.4px;font-weight:normal;fill:#b2b5be;stroke:#b2b5be;stroke-width:0.2">15:00</text>
<text x="833.3" y="590.9" textLength="21.4" lengthAdjust="spacingAndGlyphs" text-anchor="start" style="font-size:9.4px;font-weight:normal;fill:#b2b5be;stroke:#b2b5be;stroke-width:0.2">18:00</text>
<text x="898.1" y="590.9" textLength="21.4" lengthAdjust="spacingAndGlyphs" text-anchor="start" style="font-size:9.4px;font-weight:normal;fill:#b2b5be;stroke:#b2b5be;stroke-width:0.2">21:00</text>
<text x="949.7" y="590.9" textLength="4.6" lengthAdjust="spacingAndGlyphs" text-anchor="start" style="font-size:9.4px;font-weight:bold;fill:#b2b5be">5</text>
<rect x="981" y="23.3" width="32.4" height="17.1" rx="2.5" fill="#0f0f10" stroke="#2a2a2e" stroke-width="0.8"/>
<text x="987" y="35.4" textLength="15" lengthAdjust="spacingAndGlyphs" text-anchor="start" style="font-size:8.8px;font-weight:bold;fill:#d1d4dc">USD</text>
<rect x="934" y="106.2" width="44.8" height="11.8" fill="#12977e"/>
<text x="937" y="115.4" textLength="37.8" lengthAdjust="spacingAndGlyphs" text-anchor="start" style="font-size:9px;font-weight:normal;fill:#ffffff;stroke:#ffffff;stroke-width:0.2">BTCF2026</text>
<rect x="978.8" y="106.2" width="35.1" height="21.9" fill="#12977e"/>
<text x="984" y="115" textLength="26" lengthAdjust="spacingAndGlyphs" text-anchor="start" style="font-size:9.2px;font-weight:normal;fill:#ffffff;stroke:#ffffff;stroke-width:0.2">90,280</text>
<text x="984" y="124.6" textLength="21.6" lengthAdjust="spacingAndGlyphs" text-anchor="start" style="font-size:9.2px;font-weight:normal;fill:#ffffff;stroke:#ffffff;stroke-width:0.2">07:27</text>
<rect x="978.2" y="557.5" width="19.3" height="12.5" fill="#2a9d8f"/>
<text x="983" y="567" textLength="9.5" lengthAdjust="spacingAndGlyphs" text-anchor="start" style="font-size:9.2px;font-weight:normal;fill:#ffffff;stroke:#ffffff;stroke-width:0.2">37</text>
<g fill="#e6e6e6"><path d="M8.4 613.5H17.3V624.3H12.7V617.9H8.4Z"/><circle cx="20.9" cy="615.6" r="2"/><path d="M25.8 613.5H30.3L26.3 624.3H21.1Z"/></g>
<text x="35.8" y="624.2" textLength="85.9" lengthAdjust="spacingAndGlyphs" text-anchor="start" style="font-size:15.2px;font-weight:normal;fill:#e6e6e6;stroke:#e6e6e6;stroke-width:0.45">TradingView</text>
</svg>
</body></html>
